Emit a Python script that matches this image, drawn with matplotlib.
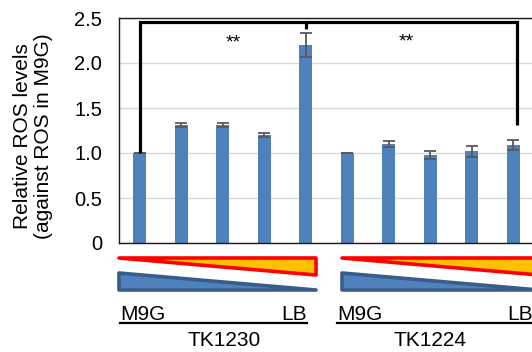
import matplotlib
matplotlib.use("Agg")
import matplotlib.pyplot as plt
from matplotlib.patches import Polygon
from matplotlib.lines import Line2D
import numpy as np

plt.rcParams['font.family'] = ['Liberation Sans', 'DejaVu Sans']

# ---- data ----
conditions = ["M9G", "2", "3", "4", "LB", "M9G", "2", "3", "4", "LB"]
strains = ["TK1230", "TK1224"]
ros_values = [1.00, 1.31, 1.31, 1.20, 2.20, 1.00, 1.10, 0.98, 1.02, 1.09]
ros_errors = [0.005, 0.025, 0.02, 0.025, 0.135, 0.005, 0.035, 0.045, 0.06, 0.06]
y_ticks = [0, 0.5, 1.0, 1.5, 2.0, 2.5]
y_tick_labels = ["0", "0.5", "1.0", "1.5", "2.0", "2.5"]
sig_label = "**"

W, H = 532, 352
fig = plt.figure(figsize=(W / 100, H / 100), dpi=100)

def fx(x):
    return x / W

def fy(y):
    return 1 - y / H

ax_l, ax_r, ax_t, ax_b = 119, 534, 18, 243
ax = fig.add_axes([fx(ax_l), fy(ax_b), fx(ax_r) - fx(ax_l), fy(ax_t) - fy(ax_b)])

x = np.arange(len(ros_values))
ax.set_axisbelow(True)
ax.yaxis.grid(True, color='#D9D9D9', linewidth=1.0)
ax.bar(x, ros_values, width=0.31, color='#4F81BD', zorder=2)
ax.errorbar(x, ros_values, yerr=ros_errors, fmt='none', ecolor='#595959',
            elinewidth=1.3, capsize=4, capthick=1.3, zorder=3)

ax.set_xlim(-0.5, len(ros_values) - 0.5)
ax.set_ylim(0, 2.5)
ax.set_xticks([])
ax.set_yticks(y_ticks)
ax.set_yticklabels(y_tick_labels)
ax.tick_params(axis='y', length=0, pad=12, labelsize=14.5)
for side in ['left', 'bottom', 'top']:
    ax.spines[side].set_color('#1a1a1a')
    ax.spines[side].set_linewidth(1.0)
ax.spines['right'].set_visible(False)

# significance brackets
ytop = 2.46
bk = dict(color='black', linewidth=2.3, solid_capstyle='butt', solid_joinstyle='miter',
          zorder=4, clip_on=False)
ax.plot([0, 0, 4, 4], [ros_values[0], ytop, ytop, 2.38], **bk)
ax.plot([4, 9.1, 9.1], [ytop, ytop, 1.31], **bk)
ax.text(2.25, 2.17, sig_label, ha='center', va='baseline', fontsize=14)
ax.text(6.42, 2.18, sig_label, ha='center', va='baseline', fontsize=14)

# y label
fig.text(fx(33), fy(136), "Relative ROS levels\n(against ROS in M9G)", rotation=90,
         ha='center', va='center', fontsize=15, linespacing=1.15)

# gradient triangles and labels below the axis
for i, (off, name) in enumerate(zip([0, 223], strains)):
    x0, x1 = 118.5 + off, 315.5 + off
    red = Polygon([(fx(x0), fy(258)), (fx(x1), fy(258)), (fx(x1), fy(274.5))],
                  closed=True, facecolor='#FFC000', edgecolor='#FF0000', linewidth=2.6,
                  joinstyle='round', transform=fig.transFigure)
    fig.add_artist(red)
    blue = Polygon([(fx(x0), fy(273)), (fx(x0), fy(289.5)), (fx(x1), fy(289.5))],
                   closed=True, facecolor='#4F81BD', edgecolor='#385D8A', linewidth=2.6,
                   joinstyle='round', transform=fig.transFigure)
    fig.add_artist(blue)

    lx0 = 120 + off * (217 / 223)
    lx1 = 307 + off * (226 / 223)
    fig.text(fx(lx0), fy(320), conditions[0], ha='left', va='baseline', fontsize=15)
    fig.text(fx(lx1), fy(320), conditions[4], ha='right', va='baseline', fontsize=15)
    fig.add_artist(Line2D([fx(lx0), fx(lx1)], [fy(322.6), fy(322.6)], color='black',
                          linewidth=1.6, transform=fig.transFigure))
    fig.text(fx(224 + off * (206 / 223)), fy(346), name, ha='center', va='baseline', fontsize=15)

fig.savefig("out.png", dpi=100)
